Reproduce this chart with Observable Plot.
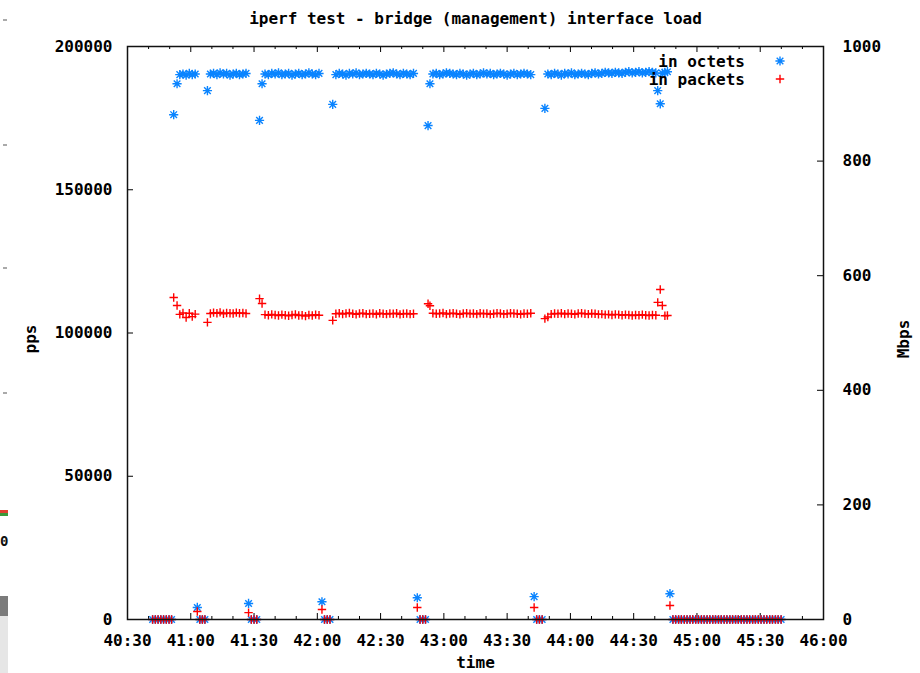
<!DOCTYPE html>
<html>
<head>
<meta charset="utf-8">
<script src="https://cdn.jsdelivr.net/npm/d3@7"></script>
<script src="https://cdn.jsdelivr.net/npm/@observablehq/plot@0.6"></script>
<style>
  html, body { margin: 0; padding: 0; background: #fff; }
  #wrap { position: relative; width: 920px; height: 673px; overflow: hidden; }
  #wrap svg { display: block; }
  .edge { position: absolute; }
</style>
</head>
<body>
<div id="wrap"></div>
<script>
// Sample times, in seconds past 40:00 (mm:ss on the time axis).
const time = [
  41.9, 43.2, 44.5, 45.8, 47.1, 48.4, 49.7, 50.9,                         // idle
  51.9, 53.5, 54.8, 56.3, 57.8, 59.3, 60.7, 62.1, 63.1,                   // run 1
  64.3, 65.5, 66.7,                                                       // idle
  67.9, 69.3, 70.8, 72.4, 73.9, 75.5, 77.0, 78.6, 80.1, 81.6, 83.1, 84.7, 86.2, 87.4, // run 2
  88.7, 90.0, 91.3,                                                       // idle
  92.6, 93.8, 95.2, 96.8, 98.4, 100.0, 101.6, 103.2, 104.8, 106.4, 108.0, 109.6,
  111.2, 112.8, 114.4, 116.0, 117.6, 119.2, 120.8, 122.2,                 // run 3
  123.4, 124.7, 126.0,                                                    // idle
  127.3, 128.8, 130.4, 132.0, 133.6, 135.2, 136.8, 138.4, 140.0, 141.6, 143.2, 144.8,
  146.4, 148.0, 149.6, 151.2, 152.8, 154.4, 156.0, 157.6, 159.2, 160.8, 162.4, 164.0,
  165.6, 167.4,                                                           // run 4
  168.7, 170.0, 171.3,                                                    // idle
  172.5, 173.4, 174.8, 176.4, 178.0, 179.6, 181.2, 182.8, 184.4, 186.0, 187.6, 189.2,
  190.8, 192.4, 194.0, 195.6, 197.2, 198.8, 200.4, 202.0, 203.6, 205.2, 206.8, 208.4,
  210.0, 211.6, 213.2, 214.8, 216.4, 218.0, 219.6, 221.2, 222.8,          // run 5
  224.0, 225.3, 226.6,                                                    // idle
  227.9, 229.3, 230.9, 232.5, 234.1, 235.7, 237.3, 238.9, 240.5, 242.1, 243.7, 245.3,
  246.9, 248.5, 250.1, 251.7, 253.3, 254.9, 256.5, 258.1, 259.7, 261.3, 262.9, 264.5,
  266.1, 267.7, 269.3, 270.9, 272.5, 274.1, 275.7, 277.3, 278.9, 280.5,
  281.4, 282.6, 283.6, 284.8, 286.0, 287.2,                               // run 6
  288.6, 289.9, 291.3, 292.6, 294.0, 295.3, 296.7, 298.0, 299.4, 300.7,
  302.1, 303.4, 304.8, 306.1, 307.5, 308.8, 310.2, 311.5, 312.9, 314.2,
  315.6, 316.9, 318.3, 319.6, 321.0, 322.3, 323.7, 325.0, 326.4, 327.7,
  329.1, 330.4, 331.8, 333.1, 334.5, 335.8, 337.2, 338.5, 339.9           // idle
];

// Inbound throughput, Mbps (right axis).
const octets = [
  0, 0, 0, 0, 0, 0, 0, 0,
  881, 935, 951, 952, 950, 953, 951, 952, 21,
  0, 0, 0,
  923, 952, 953, 951, 954, 952, 953, 950, 952, 953, 951, 952, 953, 28,
  0, 0, 0,
  871, 935, 952, 951, 953, 952, 954, 951, 952, 953, 950, 952,
  953, 951, 952, 954, 952, 951, 953, 31,
  0, 0, 0,
  899, 951, 953, 952, 950, 953, 952, 954, 951, 952, 953, 952,
  951, 953, 952, 950, 952, 953, 954, 952, 951, 953, 952, 951,
  953, 38,
  0, 0, 0,
  862, 935, 952, 953, 951, 952, 954, 953, 952, 951, 953, 952,
  950, 952, 953, 951, 952, 954, 952, 953, 951, 952, 953, 952,
  950, 952, 953, 951, 952, 953, 952, 951, 40,
  0, 0, 0,
  892, 952, 951, 953, 952, 950, 953, 952, 954, 951, 952, 953,
  952, 951, 953, 954, 952, 953, 955, 954, 953, 955, 954, 953,
  955, 956, 954, 955, 956, 954, 955, 956, 955, 954,
  923, 900, 953, 955, 956, 45,
  0, 0, 0, 0, 0, 0, 0, 0, 0, 0,
  0, 0, 0, 0, 0, 0, 0, 0, 0, 0,
  0, 0, 0, 0, 0, 0, 0, 0, 0, 0,
  0, 0, 0, 0, 0, 0, 0, 0, 0
];

// Inbound packet rate, packets per second (left axis).
const packets = [
  0, 0, 0, 0, 0, 0, 0, 0,
  112400, 109600, 106500, 107000, 105400, 106900, 105700, 106600, 2800,
  0, 0, 0,
  103700, 106800, 107100, 106900, 107200, 106700, 107000, 106900, 106800, 107100, 106900, 107000, 106800, 2400,
  0, 0, 0,
  112000, 110300, 106400, 106200, 106500, 106300, 106100, 106400, 106200, 106000, 106300, 106500,
  106100, 106200, 105900, 106300, 106100, 106400, 106200, 3500,
  0, 0, 0,
  104400, 106700, 106900, 106600, 106800, 107000, 106700, 106500, 106800, 106900, 106600, 106700,
  106800, 106500, 106900, 106700, 106600, 106800, 106700, 106900, 106500, 106700, 106800, 106600,
  106700, 4200,
  0, 0, 0,
  110200, 109500, 106900, 106700, 106800, 107000, 106600, 106800, 106900, 106700, 106500, 106800,
  106900, 106700, 106800, 106600, 106900, 106700, 106800, 106500, 106700, 106900, 106800, 106600,
  106700, 106900, 106800, 106700, 106500, 106800, 106700, 106900, 4200,
  0, 0, 0,
  105000, 105600, 106600, 106800, 106700, 106900, 106600, 106800, 106700, 106500, 106800, 106900,
  106700, 106600, 106800, 106700, 106500, 106600, 106400, 106500, 106300, 106500, 106400, 106200,
  106400, 106300, 106100, 106300, 106200, 106400, 106200, 106100, 106300, 106200,
  110700, 115200, 109600, 106000, 106100, 4900,
  0, 0, 0, 0, 0, 0, 0, 0, 0, 0,
  0, 0, 0, 0, 0, 0, 0, 0, 0, 0,
  0, 0, 0, 0, 0, 0, 0, 0, 0, 0,
  0, 0, 0, 0, 0, 0, 0, 0, 0
];

const timeTicks = ["40:30", "41:00", "41:30", "42:00", "42:30", "43:00",
                   "43:30", "44:00", "44:30", "45:00", "45:30", "46:00"];
const ppsTicks = [0, 50000, 100000, 150000, 200000];
const mbpsTicks = [0, 200, 400, 600, 800, 1000];

const titleText = "iperf test - bridge (management) interface load";
const seriesNames = ["in octets", "in packets"];

// 1000 Mbps on the right axis lines up with 200000 pps on the left.
const PPS_PER_MBPS = 200000 / 1000;

const toSec = s => { const [m, ss] = s.split(":").map(Number); return (m - 40) * 60 + ss; };
const fmtTime = v => { const m = 40 + Math.floor(v / 60), s = Math.round(v % 60); return `${m}:${String(s).padStart(2, "0")}`; };

const rows = time.map((t, i) => ({t, octets: octets[i], packets: packets[i]}));

const majorX = timeTicks.map(toSec);
const minorX = majorX.slice(0, -1).flatMap(v => [v + 10, v + 20]);

// gnuplot-style point shapes: 8-spoke asterisk and a plain plus
const starSymbol = {
  draw(ctx, size) {
    const r = Math.sqrt(size / Math.PI), d = r * 0.72;
    ctx.moveTo(-r, 0); ctx.lineTo(r, 0);
    ctx.moveTo(0, -r); ctx.lineTo(0, r);
    ctx.moveTo(-d, -d); ctx.lineTo(d, d);
    ctx.moveTo(-d, d); ctx.lineTo(d, -d);
  }
};
const plusSymbol = {
  draw(ctx, size) {
    const r = Math.sqrt(size / Math.PI);
    ctx.moveTo(-r, 0); ctx.lineTo(r, 0);
    ctx.moveTo(0, -r); ctx.lineTo(0, r);
  }
};

const BLUE = "#0a84ff", RED = "#ff0000";
const W = 920, H = 673, ML = 127, MR = 97, MT = 46, MB = 54;
const PW = W - ML - MR, PH = H - MT - MB;

const chart = Plot.plot({
  width: W, height: H,
  marginLeft: ML, marginRight: MR, marginTop: MT, marginBottom: MB,
  style: {fontFamily: "'DejaVu Sans Mono', 'Liberation Mono', monospace", fontWeight: "bold", fontSize: "16px", color: "#000", background: "#fff"},
  x: {domain: [majorX[0], majorX[majorX.length - 1]]},
  y: {domain: [0, 200000]},
  marks: [
    // tick labels
    Plot.axisX(majorX, {tickSize: 0, tickPadding: 15, tickFormat: fmtTime, label: null}),
    Plot.axisY(ppsTicks, {anchor: "left", tickSize: 0, tickPadding: 15, tickFormat: d => String(d), label: null}),
    Plot.axisY(mbpsTicks.map(v => v * PPS_PER_MBPS), {anchor: "right", tickSize: 0, tickPadding: 19, tickFormat: d => String(d / PPS_PER_MBPS), label: null}),
    // inward tick marks on the border
    Plot.ruleX(majorX, {insetTop: PH - 6, stroke: "#000"}),
    Plot.ruleX(majorX, {insetBottom: PH - 6, stroke: "#000"}),
    Plot.ruleX(minorX, {insetTop: PH - 3, stroke: "#000"}),
    Plot.ruleX(minorX, {insetBottom: PH - 3, stroke: "#000"}),
    Plot.ruleY(ppsTicks, {insetRight: PW - 6, stroke: "#000"}),
    Plot.ruleY(mbpsTicks.map(v => v * PPS_PER_MBPS), {insetLeft: PW - 6, stroke: "#000"}),
    // series
    Plot.dot(rows, {x: "t", y: d => d.octets * PPS_PER_MBPS, symbol: starSymbol, r: 4.6, fill: "none", stroke: BLUE, strokeWidth: 1.4}),
    Plot.dot(rows, {x: "t", y: "packets", symbol: plusSymbol, r: 4.2, fill: "none", stroke: RED, strokeWidth: 1.4}),
    Plot.frame({stroke: "#111", strokeWidth: 1.5}),
    // titles
    Plot.text([titleText], {frameAnchor: "top", dy: -28, lineAnchor: "middle", textAnchor: "middle"}),
    Plot.text(["time"], {frameAnchor: "bottom", dy: 43, lineAnchor: "middle", textAnchor: "middle"}),
    Plot.text(["pps"], {frameAnchor: "left", dx: -97, dy: 6, rotate: -90, lineAnchor: "middle", textAnchor: "middle"}),
    Plot.text(["Mbps"], {frameAnchor: "right", dx: 80, dy: 6, rotate: -90, lineAnchor: "middle", textAnchor: "middle"})
  ]
});

// key in the upper right corner
const key = d3.select(chart).append("g").attr("class", "key")
  .style("font-family", "'DejaVu Sans Mono', 'Liberation Mono', monospace")
  .style("font-weight", "bold").style("font-size", "16px");
const keyItems = [
  {label: seriesNames[0], symbol: starSymbol, color: BLUE, r: 4.6},
  {label: seriesNames[1], symbol: plusSymbol, color: RED, r: 4.2}
];
keyItems.forEach((k, i) => {
  const y = 61 + i * 18;
  key.append("text").attr("x", 745).attr("y", y).attr("dy", "0.35em")
    .attr("text-anchor", "end").attr("fill", "#000").text(k.label);
  key.append("path").attr("transform", `translate(780,${y})`)
    .attr("d", d3.symbol(k.symbol, Math.PI * k.r * k.r)())
    .attr("fill", "none").attr("stroke", k.color).attr("stroke-width", 1.4);
});

const wrap = document.getElementById("wrap");
wrap.appendChild(chart);

// bits of the neighbouring window along the left edge
const edge = [
  {x: 3, y: 19, w: 4, h: 2, c: "#aaa"},
  {x: 3, y: 144, w: 4, h: 2, c: "#aaa"},
  {x: 3, y: 267, w: 4, h: 2, c: "#aaa"},
  {x: 3, y: 392, w: 4, h: 2, c: "#aaa"},
  {x: 0, y: 510, w: 8, h: 3, c: "#e04030"},
  {x: 0, y: 513, w: 8, h: 3, c: "#3a9a3a"},
  {x: 0, y: 596, w: 8, h: 20, c: "#7b7b7b"},
  {x: 0, y: 616, w: 8, h: 57, c: "#e6e6e6"}
];
edge.forEach(e => {
  const d = document.createElement("div");
  d.className = "edge";
  Object.assign(d.style, {left: e.x + "px", top: e.y + "px", width: e.w + "px", height: e.h + "px", background: e.c});
  wrap.appendChild(d);
});
const zero = document.createElement("div");
zero.className = "edge";
zero.textContent = "0";
Object.assign(zero.style, {left: "0px", top: "533px", font: "bold 14px 'DejaVu Sans Mono', monospace", color: "#111"});
wrap.appendChild(zero);
</script>
</body>
</html>
